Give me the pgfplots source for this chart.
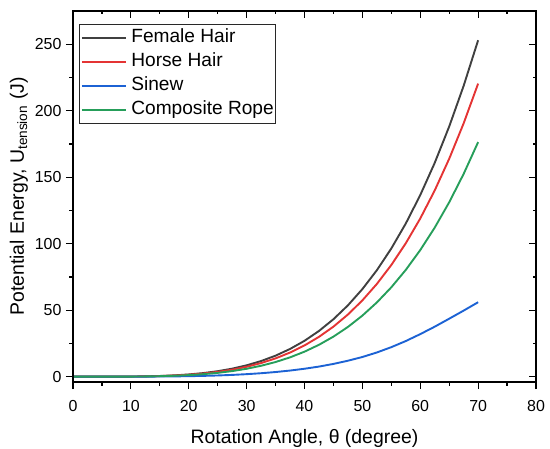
\documentclass[border=0pt]{standalone}
\usepackage{pgfplots}
\pgfplotsset{compat=1.18}
\usepackage{pgfplotstable}
\usepackage{fontspec}
\setmainfont{Liberation Sans}
\definecolor{cblack}{RGB}{64,64,64}
\definecolor{cred}{RGB}{228,52,52}
\definecolor{cblue}{RGB}{28,98,212}
\definecolor{cgreen}{RGB}{38,158,90}
\pgfplotstableread{
theta female horse sinew composite
0    0      0      0      0
2.5  0.0004 0.0003 0.0001 0.0003
5    0.0066 0.0057 0.0015 0.0046
7.5  0.033  0.029  0.007  0.023
10   0.105  0.091  0.023  0.073
12.5 0.257  0.224  0.057  0.179
15   0.534  0.465  0.118  0.372
17.5 0.988  0.861  0.22   0.689
20   1.686  1.469  0.37   1.175
22.5 2.70   2.35   0.60   1.88
25   4.12   3.59   0.91   2.87
27.5 6.03   5.25   1.33   4.20
30   8.54   7.44   1.89   5.95
32.5 11.76  10.24  2.60   8.20
35   15.81  13.77  3.50   11.02
37.5 20.84  18.15  4.61   14.53
40   26.98  23.50  5.97   18.81
42.5 34.38  29.95  7.6    23.97
45   43.21  37.64  9.6    30.13
47.5 53.64  46.73  12.0   37.40
50   65.86  57.37  14.8   45.92
52.5 80.05  69.73  18.2   55.81
55   96.42  83.99  22.2   67.22
57.5 115.18 100.33 26.8   80.30
60   136.56 118.96 32.0   95.21
62.5 160.78 140.06 37.6   112.10
65   188.10 163.86 43.6   131.14
67.5 218.75 190.55 49.7   152.51
70   253.0  220.4  56.0   176.4
}\datatable
\begin{document}
\begin{tikzpicture}
\begin{axis}[
  name=main,
  scale only axis, width=463bp, height=371bp,
  xmin=0, xmax=80, ymin=-4, ymax=275,
  xtick={0,10,...,80}, ytick={0,50,...,250},
  minor x tick num=1, minor y tick num=1,
  tick align=outside, tick pos=left,
  major tick length=7bp, minor tick length=3.5bp,
  axis line style={line width=1.5bp},
  every tick/.style={line width=1.2bp, black},
  /pgf/number format/assume math mode=true,
  tick label style={font=\fontsize{16}{16}\selectfont},
  xticklabel style={yshift=-8bp},
  yticklabel style={xshift=-1bp},
  xlabel={Rotation Angle, θ (degree)},
  ylabel={Potential Energy, U\textsubscript{tension} (J)},
  label style={font=\fontsize{19.5}{19.5}\selectfont},
  xlabel style={at={(axis description cs:0.5,0)}, anchor=base, yshift=-61bp},
  ylabel style={at={(axis description cs:0,0.5)}, anchor=base, yshift=49bp},
  legend style={at={(0.013,0.965)}, anchor=north west, draw={rgb,255:red,40;green,40;blue,40}, line width=0.8bp,
    inner xsep=1.5bp, inner ysep=4.5bp, font=\fontsize{19.2}{19.2}\selectfont,
    row sep=6bp, column sep=4.5bp,
    nodes={inner sep=0bp, text height=14bp, text depth=4bp}},
  legend cell align=left,
  legend image code/.code={\draw[#1] (0bp,0bp) -- (44bp,0bp);},
]
\addplot[cblack, line width=1.9bp] table[x=theta, y=female] {\datatable};
\addlegendentry{Female Hair}
\addplot[cred, line width=1.9bp] table[x=theta, y=horse] {\datatable};
\addlegendentry{Horse Hair}
\addplot[cblue, line width=1.9bp] table[x=theta, y=sinew] {\datatable};
\addlegendentry{Sinew}
\addplot[cgreen, line width=1.9bp] table[x=theta, y=composite] {\datatable};
\addlegendentry{Composite Rope}
\end{axis}
\begin{axis}[
  scale only axis, width=463bp, height=371bp,
  xmin=0, xmax=80, ymin=-4, ymax=275,
  xtick={0,10,...,80}, ytick={0,50,...,250},
  minor x tick num=1, minor y tick num=1,
  tick align=inside, xtick pos=right, ytick pos=right,
  xticklabels={}, yticklabels={},
  major tick length=7bp, minor tick length=3.5bp,
  axis line style={line width=1.5bp},
  every tick/.style={line width=1.2bp, black},
]
\end{axis}
\pgfresetboundingbox
\path ([xshift=-73bp,yshift=-67bp]main.south west) rectangle ([xshift=14bp,yshift=11bp]main.north east);
\end{tikzpicture}
\end{document}
